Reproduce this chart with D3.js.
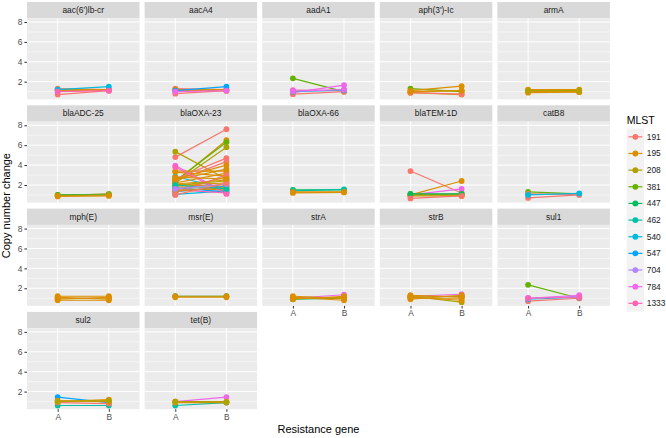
<!DOCTYPE html>
<html>
<head>
<meta charset="utf-8">
<script src="https://cdn.jsdelivr.net/npm/d3@7"></script>
<style>
  html, body { margin: 0; padding: 0; background: #fff; }
  svg { display: block; font-family: "Liberation Sans", Arial, Helvetica, sans-serif; }
</style>
</head>
<body>
<svg id="chart" width="666" height="438"></svg>
<script>
// ---------------- data ----------------
const genes = ["aac(6')lb-cr", "aacA4", "aadA1", "aph(3')-Ic", "armA",
               "blaADC-25", "blaOXA-23", "blaOXA-66", "blaTEM-1D", "catB8",
               "mph(E)", "msr(E)", "strA", "strB", "sul1",
               "sul2", "tet(B)"];
const mlstLevels = ["191", "195", "208", "381", "447", "462", "540", "547", "704", "784", "1333"];
const mlstColors = ["#F8766D", "#DB8E00", "#AEA200", "#64B200", "#00BD5C", "#00C1A7",
                    "#00BADE", "#00A6FF", "#B385FF", "#EF67EB", "#FF63B6"];
const timepoints = ["A", "B"];
const yTicks = [2, 4, 6, 8];
const yMinor = [1, 3, 5, 7];

// each entry: [MLST, copy number change at A, copy number change at B]
const aac6 = [["191",1.3,1.2],["191",0.7,1.1],["195",1.2,1.2],["195",1.1,1.15],["540",1.2,1.5],["1333",1.0,1.1]];
const aacA4 = [["191",1.3,1.2],["191",0.8,1.1],["195",1.2,1.2],["195",1.1,1.1],["547",1.1,1.5],["784",1.0,1.1]];
const aadA1 = [["381",2.34,1.0],["784",0.9,1.65],["1333",1.15,1.1],["191",0.75,1.0],["540",1.0,1.15],["784",1.05,1.2]];
const aph3 = [["381",1.3,1.0],["208",1.0,1.1],["195",1.1,1.55],["195",0.9,0.7],["191",0.9,0.75],["195",1.0,1.1]];
const armA = [["195",1.2,1.2],["195",1.1,1.0],["195",1.0,1.1],["195",0.9,0.95],["208",1.1,1.1]];
const blaADC25 = [["195",1.0,1.0],["195",0.9,1.1],["447",1.0,1.05],["208",0.95,1.0],["195",0.85,0.9]];
const blaOXA23 = [["191",4.8,7.6],["208",5.35,2.6],["195",2.3,6.5],["381",2.4,6.3],["208",2.2,5.8],
                  ["784",3.95,1.2],["195",3.4,3.4],["195",3.3,2.9],["191",2.6,4.7],["191",2.4,4.35],
                  ["540",2.85,1.6],["195",2.6,4.0],["195",2.5,3.6],["195",2.2,3.2],["195",2.1,2.5],
                  ["195",2.0,2.2],["195",1.9,2.0],["195",1.8,1.8],["195",1.6,1.5],["195",1.5,2.8],
                  ["540",1.05,1.4],["547",1.3,1.9],["547",1.7,1.3],["1333",3.8,1.1],["1333",1.5,1.2],
                  ["191",1.2,3.0],["208",2.0,2.4],["195",1.4,1.7],["462",2.0,1.6],["704",1.6,2.1],
                  ["191",1.0,2.2],["195",2.8,2.6]];
const blaOXA66 = [["447",1.5,1.5],["462",1.4,1.55],["195",1.3,1.3],["195",1.2,1.25]];
const blaTEM1D = [["191",3.4,1.2],["195",1.0,2.4],["784",1.0,1.6],["195",1.1,1.0],["195",1.0,1.1],
                  ["195",0.9,0.9],["208",1.0,1.0],["447",1.1,1.1],["191",0.65,0.9]];
const catB8 = [["381",1.3,1.1],["191",1.1,1.05],["191",0.7,1.0],["540",1.0,1.15]];
const mphE = [["195",1.0,1.0],["195",1.1,0.9],["195",0.9,1.1],["195",0.8,0.8],["195",1.2,1.2]];
const msrE = [["447",1.2,1.2],["195",1.2,1.2],["195",1.1,1.1]];
const strA = [["447",0.9,1.0],["784",1.0,1.35],["208",1.0,1.1],["195",1.0,1.0],["195",1.1,0.8],
              ["195",0.9,1.2],["195",1.2,1.0]];
const strB = [["462",1.1,1.2],["784",1.2,1.4],["208",1.2,0.6],["195",1.0,1.0],["195",1.3,1.1],
              ["195",0.9,1.3],["195",1.1,0.8],["195",1.2,1.2]];
const sul1 = [["381",2.35,1.0],["191",0.7,1.0],["540",0.9,1.1],["704",1.0,1.2],["784",1.0,1.3],["1333",1.0,1.1]];
const sul2 = [["547",1.45,0.9],["462",0.6,0.6],["191",0.9,0.8],["195",1.0,1.2],["195",1.1,1.0],["208",1.0,1.1]];
const tetB = [["462",0.6,0.9],["784",1.0,1.45],["195",1.0,1.0],["195",0.9,0.9],["208",1.0,0.95]];

const geneData = [aac6, aacA4, aadA1, aph3, armA, blaADC25, blaOXA23, blaOXA66, blaTEM1D, catB8,
                  mphE, msrE, strA, strB, sul1, sul2, tetB];

// ---------------- layout ----------------
const svg = d3.select("#chart");
const nCol = 5;
const panelX0 = 27, panelW = 112.5, colStep = 117.6;
const rowY0 = 2, stripH = 16.3, panelH = 81, rowStep = 103.3;
const yDomain = [0.23, 8.37];

const color = d3.scaleOrdinal().domain(mlstLevels).range(mlstColors);
const x = d3.scalePoint().domain(timepoints).range([0, panelW]).padding(0.6);
const y = d3.scaleLinear().domain(yDomain).range([panelH, 0]);

svg.append("rect").attr("width", 666).attr("height", 438).attr("fill", "#fff");

const nRows = Math.ceil(genes.length / nCol);

genes.forEach((gene, i) => {
  const col = i % nCol, row = Math.floor(i / nCol);
  const px = panelX0 + col * colStep;
  const sy = rowY0 + row * rowStep;
  const py = sy + stripH;

  // strip
  svg.append("rect").attr("x", px).attr("y", sy).attr("width", panelW).attr("height", stripH)
     .attr("fill", "#D9D9D9");
  svg.append("text").attr("x", px + panelW / 2).attr("y", sy + stripH / 2).attr("dy", "0.35em")
     .attr("text-anchor", "middle").attr("font-size", 8.4).attr("fill", "#1A1A1A").text(gene);

  const g = svg.append("g").attr("transform", `translate(${px},${py})`);
  g.append("rect").attr("width", panelW).attr("height", panelH).attr("fill", "#EBEBEB");

  // grid
  g.selectAll(".minor").data(yMinor).enter().append("line")
    .attr("x1", 0).attr("x2", panelW).attr("y1", d => y(d)).attr("y2", d => y(d))
    .attr("stroke", "#fff").attr("stroke-width", 0.5);
  g.selectAll(".major").data(yTicks).enter().append("line")
    .attr("x1", 0).attr("x2", panelW).attr("y1", d => y(d)).attr("y2", d => y(d))
    .attr("stroke", "#fff").attr("stroke-width", 1);
  g.selectAll(".vmajor").data(timepoints).enter().append("line")
    .attr("x1", d => x(d)).attr("x2", d => x(d)).attr("y1", 0).attr("y2", panelH)
    .attr("stroke", "#fff").attr("stroke-width", 1);

  const data = geneData[i];
  // lines
  g.selectAll(".pair").data(data).enter().append("line")
    .attr("x1", x("A")).attr("x2", x("B"))
    .attr("y1", d => y(d[1])).attr("y2", d => y(d[2]))
    .attr("stroke", d => color(d[0])).attr("stroke-width", 1.2);
  // points
  const pts = [];
  data.forEach(d => { pts.push([d[0], "A", d[1]]); pts.push([d[0], "B", d[2]]); });
  g.selectAll(".pt").data(pts).enter().append("circle")
    .attr("cx", d => x(d[1])).attr("cy", d => y(d[2])).attr("r", 2.9)
    .attr("fill", d => color(d[0]));

  // y axis on first column
  if (col === 0) {
    const ax = g.append("g").call(d3.axisLeft(y).tickValues(yTicks).tickSize(2.6).tickPadding(2));
    ax.select(".domain").remove();
    ax.selectAll("line").attr("stroke", "#333333");
    ax.selectAll("text").attr("fill", "#4D4D4D").attr("font-size", 8.4)
      .attr("font-family", "Liberation Sans, Arial, sans-serif");
  }
  // x axis on the bottom panel of each column
  const below = i + nCol;
  if (below >= genes.length) {
    const ax = g.append("g").attr("transform", `translate(0,${panelH})`)
      .call(d3.axisBottom(x).tickSize(2.6).tickPadding(2));
    ax.select(".domain").remove();
    ax.selectAll("line").attr("stroke", "#333333");
    ax.selectAll("text").attr("fill", "#4D4D4D").attr("font-size", 8.4)
      .attr("font-family", "Liberation Sans, Arial, sans-serif");
  }
});

// axis titles
const plotLeft = panelX0, plotRight = panelX0 + (nCol - 1) * colStep + panelW;
const plotBottom = rowY0 + (nRows - 1) * rowStep + stripH + panelH;
svg.append("text").attr("x", (plotLeft + plotRight) / 2).attr("y", 433)
   .attr("text-anchor", "middle").attr("font-size", 11).attr("fill", "#000")
   .text("Resistance gene");
svg.append("text")
   .attr("transform", `translate(10,${(rowY0 + plotBottom) / 2}) rotate(-90)`)
   .attr("text-anchor", "middle").attr("font-size", 11).attr("fill", "#000")
   .text("Copy number change");

// legend
const lg = svg.append("g").attr("transform", "translate(626.7,128.5)");
lg.append("text").attr("x", 0).attr("y", -4.5).attr("font-size", 10.5).attr("fill", "#000").text("MLST");
const keyH = 16.65, keyW = 17.3;
const items = lg.selectAll(".key").data(mlstLevels).enter().append("g")
  .attr("transform", (d, i) => `translate(0,${i * keyH})`);
items.append("rect").attr("width", keyW).attr("height", keyH).attr("fill", "#F2F2F2");
items.append("line").attr("x1", 1.7).attr("x2", keyW - 1.7).attr("y1", keyH / 2).attr("y2", keyH / 2)
  .attr("stroke", d => color(d)).attr("stroke-width", 1.2);
items.append("circle").attr("cx", keyW / 2).attr("cy", keyH / 2).attr("r", 2.9).attr("fill", d => color(d));
items.append("text").attr("x", keyW + 2.8).attr("y", keyH / 2).attr("dy", "0.35em")
  .attr("font-size", 8.4).attr("fill", "#1A1A1A").text(d => d);
</script>
</body>
</html>
